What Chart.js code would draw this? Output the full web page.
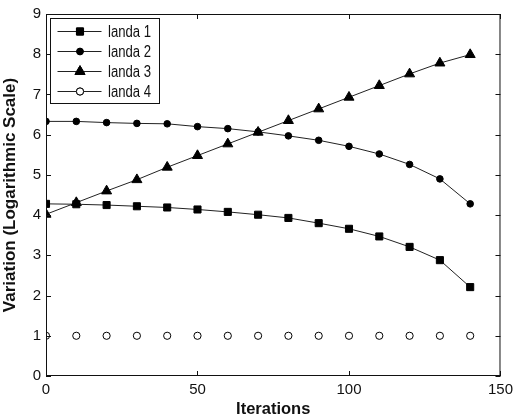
<!DOCTYPE html>
<html>
<head>
<meta charset="utf-8">
<script src="https://cdn.jsdelivr.net/npm/chart.js@4.4.1/dist/chart.umd.min.js"></script>
<style>
  html, body { margin: 0; padding: 0; background: #fff; }
  #wrap { width: 518px; height: 419px; }
</style>
</head>
<body>
<div id="wrap"><canvas id="plot" width="518" height="419"></canvas></div>
<script>
const iterations = [0, 10, 20, 30, 40, 50, 60, 70, 80, 90, 100, 110, 120, 130, 140];
const landa1 = [4.28, 4.27, 4.25, 4.22, 4.19, 4.14, 4.08, 4.01, 3.93, 3.80, 3.66, 3.47, 3.21, 2.88, 2.21];
const landa2 = [6.33, 6.33, 6.30, 6.28, 6.27, 6.20, 6.15, 6.07, 5.97, 5.86, 5.71, 5.52, 5.26, 4.90, 4.28];
const landa3 = [4.02, 4.31, 4.60, 4.88, 5.19, 5.48, 5.77, 6.06, 6.35, 6.64, 6.93, 7.22, 7.51, 7.78, 7.99];
const landa4 = [1, 1, 1, 1, 1, 1, 1, 1, 1, 1, 1, 1, 1, 1, 1];
const seriesNames = ["landa 1", "landa 2", "landa 3", "landa 4"];
const xTicks = [0, 50, 100, 150];
const yTicks = [0, 1, 2, 3, 4, 5, 6, 7, 8, 9];

const INK = "#111";
const FAMILY = "'Liberation Sans', Arial, Helvetica, sans-serif";
const tickFont = { family: FAMILY, size: 15 };

function pts(ys) {
  return ys.map((y, i) => ({ x: iterations[i], y: y }));
}

function series(label, ys, style, radius, filled, line) {
  return {
    label: label,
    data: pts(ys),
    showLine: line,
    borderColor: "#222",
    borderWidth: 1,
    pointStyle: style,
    pointRadius: radius,
    pointHoverRadius: radius,
    pointBackgroundColor: filled ? "#000" : "#fff",
    pointBorderColor: "#000",
    pointBorderWidth: 1,
    fill: false,
    tension: 0
  };
}

// box frame, inward ticks on all four sides and the legend inside the top-left corner
const matlabFrame = {
  id: "matlabFrame",
  afterDraw(chart) {
    const { ctx, chartArea: a, scales } = chart;
    const tl = 5;
    ctx.save();
    ctx.strokeStyle = INK;
    ctx.lineWidth = 1;
    ctx.strokeRect(a.left + 0.5, a.top + 0.5, a.right - a.left - 1, a.bottom - a.top - 1);
    ctx.beginPath();
    xTicks.forEach(v => {
      const px = Math.round(scales.x.getPixelForValue(v)) + 0.5;
      ctx.moveTo(px, a.bottom); ctx.lineTo(px, a.bottom - tl);
      ctx.moveTo(px, a.top); ctx.lineTo(px, a.top + tl);
    });
    yTicks.forEach(v => {
      const py = Math.round(scales.y.getPixelForValue(v)) + 0.5;
      ctx.moveTo(a.left, py); ctx.lineTo(a.left + tl, py);
      ctx.moveTo(a.right, py); ctx.lineTo(a.right - tl, py);
    });
    ctx.stroke();

    // legend
    const bx = a.left + 4.5, by = a.top + 4.5, bw = 109, bh = 85, row = 20.3;
    ctx.fillStyle = "#fff";
    ctx.fillRect(bx, by, bw, bh);
    ctx.strokeRect(bx, by, bw, bh);
    ctx.textBaseline = "middle";
    chart.data.datasets.forEach((ds, i) => {
      const y = Math.round(by + 12 + i * row) + 0.5;
      ctx.strokeStyle = "#222";
      ctx.beginPath();
      ctx.moveTo(bx + 7, y); ctx.lineTo(bx + 51, y);
      ctx.stroke();
      Chart.helpers.drawPoint(ctx, {
        pointStyle: ds.pointStyle, radius: ds.pointRadius, borderWidth: 1, rotation: 0
      }, bx + 29.5, y);
      ctx.fillStyle = ds.pointBackgroundColor;
      ctx.strokeStyle = "#000";
      ctx.fill();
      ctx.stroke();
      // narrow legend lettering
      ctx.save();
      ctx.translate(bx + 57.5, y + 1);
      ctx.scale(0.82, 1);
      ctx.font = "16px " + FAMILY;
      ctx.fillStyle = INK;
      ctx.fillText(ds.label, 0, 0);
      ctx.restore();
    });
    ctx.restore();
  }
};

new Chart(document.getElementById("plot"), {
  type: "scatter",
  data: {
    datasets: [
      series(seriesNames[0], landa1, "rect", 5, true, true),
      series(seriesNames[1], landa2, "circle", 3.3, true, true),
      series(seriesNames[2], landa3, "triangle", 5.8, true, true),
      series(seriesNames[3], landa4, "circle", 3.6, false, false)
    ]
  },
  options: {
    responsive: false,
    animation: false,
    events: [],
    layout: { padding: { top: 13, right: 10, left: 0, bottom: 0 } },
    plugins: { legend: { display: false }, tooltip: { enabled: false } },
    scales: {
      x: {
        type: "linear",
        min: 0, max: 150,
        afterBuildTicks(s) { s.ticks = xTicks.map(v => ({ value: v })); },
        afterFit(s) { s.height = 43; },
        grid: { display: false, drawTicks: false },
        border: { display: false },
        ticks: { color: INK, font: tickFont, padding: 5 },
        title: { display: true, text: "Iterations", color: INK, font: { family: FAMILY, size: 16.5, weight: "bold" }, padding: { top: 1, bottom: 0 } }
      },
      y: {
        type: "linear",
        min: 0, max: 9,
        afterBuildTicks(s) { s.ticks = yTicks.map(v => ({ value: v })); },
        afterFit(s) { s.width = 46; },
        grid: { display: false, drawTicks: false },
        border: { display: false },
        ticks: { color: INK, font: tickFont, padding: 5 },
        title: { display: true, text: "Variation (Logarithmic Scale)", color: INK, font: { family: FAMILY, size: 17, weight: "bold" }, padding: { top: 0, bottom: 0 } }
      }
    }
  },
  plugins: [matlabFrame]
});
</script>
</body>
</html>
